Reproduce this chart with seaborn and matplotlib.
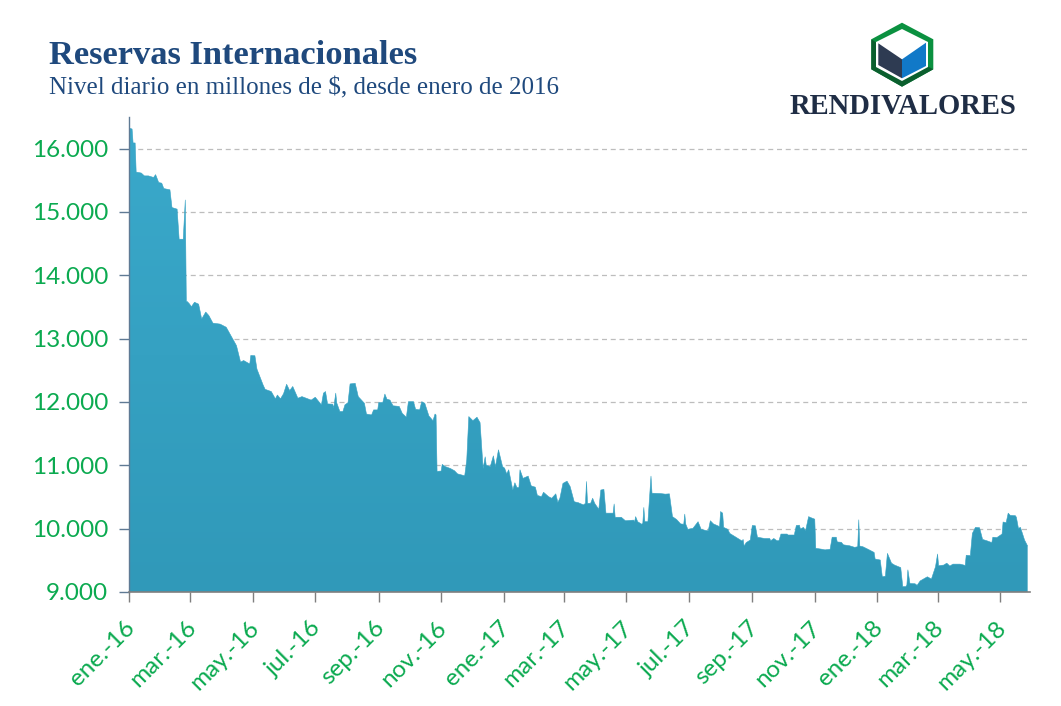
import numpy as np
import pandas as pd
import matplotlib
matplotlib.use('Agg')
import matplotlib.pyplot as plt
import matplotlib.dates as mdates
from matplotlib.colors import LinearSegmentedColormap
from matplotlib.patches import Polygon
from matplotlib.transforms import ScaledTranslation
import seaborn as sns

# dias desde el 1 de enero de 2016
dias = [0, 3, 4, 6, 7, 12, 15, 19, 24, 26, 29, 32, 34, 40, 42, 47, 49, 53, 55, 56,
        57, 59, 61, 64, 68, 69, 71, 75, 78, 82, 89, 95, 100, 105, 109, 112, 118, 119, 123, 125,
        131, 133, 139, 143, 145, 148, 151, 154, 157, 160, 165, 169, 178, 182, 188, 190, 192, 194, 199, 200,
        202, 203, 206, 209, 211, 214, 216, 221, 224, 230, 232, 237, 239, 243, 244, 248, 250, 252, 255, 258,
        264, 267, 271, 273, 278, 280, 284, 286, 289, 293, 297, 299, 300, 301, 305, 306, 309, 314, 318, 321,
        328, 330, 332, 336, 340, 343, 346, 348, 349, 353, 356, 358, 361, 365, 367, 369, 371, 375, 377, 379,
        381, 382, 385, 390, 393, 397, 399, 403, 405, 410, 413, 417, 419, 421, 424, 428, 431, 435, 439, 444,
        446, 447, 448, 451, 453, 455, 459, 461, 464, 466, 473, 474, 475, 481, 485, 493, 494, 495, 497, 501,
        502, 503, 504, 507, 510, 511, 519, 524, 528, 531, 535, 539, 542, 543, 544, 546, 551, 556, 559, 564,
        566, 568, 571, 576, 577, 578, 580, 581, 585, 587, 599, 600, 601, 603, 607, 609, 612, 614, 621, 626,
        627, 630, 633, 635, 637, 643, 644, 650, 652, 655, 656, 659, 661, 664, 666, 670, 671, 677, 680, 685,
        687, 691, 692, 696, 698, 704, 709, 712, 713, 714, 717, 722, 728, 729, 734, 736, 739, 741, 745, 748,
        754, 756, 759, 760, 761, 763, 768, 770, 773, 780, 784, 788, 790, 791, 796, 799, 802, 805, 812, 817,
        818, 822, 824, 827, 831, 834, 838, 843, 844, 848, 853, 854, 857, 859, 861, 866, 867, 869, 871, 875, 878]

reservas = [16325, 16310, 16090, 16090, 15630, 15615, 15570, 15570, 15545, 15590, 15465, 15455, 15370, 15350, 15070, 15045, 14570, 14570, 15190, 13585,
            13585, 13550, 13505, 13575, 13545, 13470, 13310, 13420, 13365, 13245, 13230, 13180, 13035, 12890, 12630, 12655, 12600, 12735, 12730, 12520,
            12270, 12200, 12165, 12050, 12110, 12050, 12130, 12280, 12180, 12245, 12060, 12085, 12030, 12075, 11955, 12140, 12165, 11970, 11965, 11905,
            12140, 11985, 11850, 11850, 11955, 11990, 12285, 12295, 12085, 11980, 11810, 11795, 11875, 11875, 11990, 11995, 12125, 12045, 12030, 11940,
            11930, 11820, 11760, 12005, 12005, 11885, 11875, 12005, 11980, 11780, 11705, 11810, 11795, 10905, 10910, 11015, 10980, 10950, 10915, 10865,
            10835, 11085, 11770, 11705, 11760, 11675, 10950, 11135, 11005, 10980, 11150, 10980, 11245, 10980, 10955, 10865, 10930, 10610, 10725, 10650,
            10650, 10930, 10795, 10830, 10675, 10655, 10525, 10505, 10575, 10505, 10480, 10550, 10415, 10480, 10715, 10750, 10665, 10425, 10410, 10375,
            10400, 10745, 10400, 10400, 10480, 10400, 10305, 10610, 10620, 10245, 10245, 10390, 10180, 10180, 10125, 10135, 10110, 10190, 10110, 10070,
            10085, 10335, 10110, 10110, 10830, 10560, 10555, 10545, 10550, 10190, 10145, 10075, 10070, 10230, 10070, 9990, 10005, 10110, 9990, 9970,
            9970, 10125, 10075, 10040, 10030, 10270, 10245, 10020, 9990, 9925, 9805, 9830, 9725, 9780, 9820, 10050, 10045, 9865, 9845, 9845,
            9810, 9845, 9810, 9810, 9915, 9915, 9900, 9900, 10050, 10055, 9995, 10020, 9965, 10190, 10175, 10150, 9690, 9675, 9665, 9675,
            9865, 9865, 9790, 9785, 9745, 9730, 9705, 9715, 10140, 9725, 9715, 9675, 9625, 9520, 9505, 9240, 9250, 9610, 9455, 9425,
            9385, 9085, 9085, 9110, 9350, 9135, 9130, 9105, 9175, 9240, 9205, 9400, 9600, 9415, 9425, 9455, 9410, 9440, 9440, 9420,
            9580, 9575, 9925, 10020, 10015, 9830, 9810, 9780, 9865, 9860, 9915, 10105, 10095, 10245, 10210, 10205, 10180, 10005, 10020, 9820, 9725]

y_ticks = [9000, 10000, 11000, 12000, 13000, 14000, 15000, 16000]
y_labels = ['9.000', '10.000', '11.000', '12.000', '13.000', '14.000', '15.000', '16.000']
x_ticks = ['2016-01-01', '2016-03-01', '2016-05-01', '2016-07-01', '2016-09-01', '2016-11-01',
           '2017-01-01', '2017-03-01', '2017-05-01', '2017-07-01', '2017-09-01', '2017-11-01',
           '2018-01-01', '2018-03-01', '2018-05-01']
x_labels = ['ene.-16', 'mar.-16', 'may.-16', 'jul.-16', 'sep.-16', 'nov.-16',
            'ene.-17', 'mar.-17', 'may.-17', 'jul.-17', 'sep.-17', 'nov.-17',
            'ene.-18', 'mar.-18', 'may.-18']

verde = '#0BAA50'
azul_titulo = '#1F497D'

sns.set_theme(style='white')

df = pd.DataFrame({'fecha': pd.Timestamp('2016-01-01') + pd.to_timedelta(dias, unit='D'),
                   'reservas': reservas})

fig = plt.figure(figsize=(10.61, 7.06), dpi=100)
ax = fig.add_axes([129/1061, 1 - 592/706, 901/1061, 475/706])

ax.set_axisbelow(True)
ax.yaxis.grid(True, color='#BDBDBD', linestyle=(0, (4, 3)), linewidth=0.9)
ax.xaxis.grid(False)

x_num = mdates.date2num(df['fecha'])
x0 = x_num[0]
x1 = x0 + 880.3

# relleno con degradado suave, recortado al area
area = ax.fill_between(x_num, 9000, df['reservas'], color='none', linewidth=0)
cmap = LinearSegmentedColormap.from_list('area', ['#3099B9', '#3AA9CB'])
grad = ax.imshow(np.linspace(0, 1, 256).reshape(-1, 1), cmap=cmap, origin='lower', aspect='auto',
                 extent=[x0, x_num[-1], 9000, 16500], zorder=2)
grad.set_clip_path(area.get_paths()[0], transform=ax.transData)

sns.lineplot(data=df, x='fecha', y='reservas', ax=ax, color='#36A2C3', linewidth=0.4, zorder=2.1)

ax.set_xlim(x0, x1)
ax.set_ylim(9000, 16500)
ax.set_xlabel('')
ax.set_ylabel('')

ax.set_yticks(y_ticks)
ax.set_yticklabels(y_labels, fontfamily='Lato', fontsize=17.5, color=verde)
ax.set_xticks(mdates.date2num(pd.to_datetime(x_ticks)))
ax.set_xticklabels(x_labels, fontfamily='Lato', fontsize=17.5, color=verde,
                   rotation=45, ha='right', va='top', rotation_mode='anchor')
ax.tick_params(axis='y', length=7, width=1, color='#5F7A94', pad=8, left=True)
ax.tick_params(axis='x', length=7, width=1, color='#7F7F7F', pad=6, bottom=True)

# las etiquetas de fecha van un poco mas abajo y a la izquierda
desplaza = ScaledTranslation(-5/100, -7/100, fig.dpi_scale_trans)
for etiqueta in ax.get_xticklabels():
    etiqueta.set_transform(etiqueta.get_transform() + desplaza)

for lado in ['top', 'right']:
    ax.spines[lado].set_visible(False)
ax.spines['left'].set_color('#5F7A94')
ax.spines['bottom'].set_color('#7F7F7F')
ax.spines['left'].set_linewidth(1)
ax.spines['bottom'].set_linewidth(1.2)

fig.text(49/1061, 1 - 55/706, 'Reservas Internacionales', family='Liberation Serif', weight='bold',
         fontsize=24.8, color=azul_titulo, va='center', ha='left')
fig.text(49/1061, 1 - 88/706, 'Nivel diario en millones de $, desde enero de 2016', family='Liberation Serif',
         fontsize=18, color=azul_titulo, va='center', ha='left')

# logo
logo = fig.add_axes([0, 0, 1, 1], facecolor='none')
logo.set_xlim(0, 1061)
logo.set_ylim(706, 0)
logo.axis('off')
logo.add_patch(Polygon([(902, 22.7), (933.3, 39.3), (933.3, 69.3), (902, 86.7), (871.3, 69.3), (871.3, 39.3)],
                       facecolor='#0B9140', edgecolor='none'))
logo.add_patch(Polygon([(871.3, 39.3), (877, 43), (877, 66), (902, 80), (927, 66), (933.3, 69.3), (902, 86.7), (871.3, 69.3)],
                       facecolor='#0B5F2E', edgecolor='none'))
logo.add_patch(Polygon([(902, 29), (928, 42), (928, 67), (902, 81), (876, 67), (876, 42)],
                       facecolor='white', edgecolor='none'))
logo.add_patch(Polygon([(878.3, 43.3), (902, 59.3), (902, 78.3), (878.3, 65)], facecolor='#2E3B52', edgecolor='none'))
logo.add_patch(Polygon([(902, 59.3), (926, 42.7), (926, 66), (902, 78.3)], facecolor='#1179C8', edgecolor='none'))
logo.text(902.5, 106, 'RENDIVALORES', family='Liberation Serif', weight='bold', fontsize=20.6,
          color='#1F2D45', ha='center', va='center')

fig.savefig('out.png', dpi=100)
